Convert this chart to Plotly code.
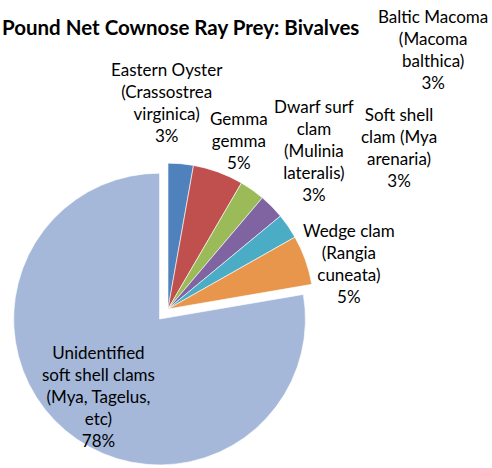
import plotly.graph_objects as go

# Prey categories (clockwise from 12 o'clock), as in the original Excel pie
labels = ["Eastern Oyster<br>(Crassostrea<br>virginica)",
          "Gemma<br>gemma",
          "Dwarf surf<br>clam<br>(Mulinia<br>lateralis)",
          "Soft shell<br>clam (Mya<br>arenaria)",
          "Baltic Macoma<br>(Macoma<br>balthica)",
          "Wedge clam<br>(Rangia<br>cuneata)",
          "Unidentified<br>soft shell clams<br>(Mya, Tagelus,<br>etc)"]
values = [2.8, 5.6, 2.8, 2.8, 2.8, 5.5, 77.7]
pct_shown = [3, 5, 3, 3, 3, 5, 78]

colors = ["#4F81BD", "#C0504D", "#9BBB59", "#8064A2", "#4BACC6", "#E8964C", "#A5B8DA"]

W, H = 492, 468

# label centres in pixels (Excel "best fit" placement)
label_pos = [(167, 102), (239, 140), (314, 151), (399, 147),
             (433, 50), (349, 263), (98, 396)]

trace = go.Pie(values=values, labels=labels, sort=False, direction="clockwise",
               rotation=0, pull=[0, 0, 0, 0, 0, 0, 0.09],
               marker=dict(colors=colors, line=dict(color="white", width=0.6)),
               textinfo="none", hoverinfo="skip", showlegend=False,
               domain=dict(x=[9 / W, 327 / W], y=[0, 318 / H]))

annots = []
for lab, p, (px, py) in zip(labels, pct_shown, label_pos):
    annots.append(dict(text=lab + "<br>" + str(p) + "%", x=px / W, y=1 - py / H,
                       xref="paper", yref="paper", xanchor="center", yanchor="middle",
                       showarrow=False, align="center",
                       font=dict(family="Lato", size=17, color="#000000")))

annots.append(dict(text="<b>Pound Net Cownose Ray Prey: Bivalves</b>",
                   x=0, y=1 - 27 / H, xref="paper", yref="paper",
                   xanchor="left", yanchor="middle", showarrow=False,
                   font=dict(family="Lato", size=20.5, color="#000000")))

layout = go.Layout(width=W, height=H, margin=dict(l=0, r=0, t=0, b=0),
                   paper_bgcolor="white", plot_bgcolor="white",
                   annotations=annots)

fig = go.Figure(data=[trace], layout=layout)
# page body has an 8px default margin, drop it so the chart fills the window
fig.write_html("out.html", config={"displayModeBar": False},
               post_script="document.body.style.margin='0';")
